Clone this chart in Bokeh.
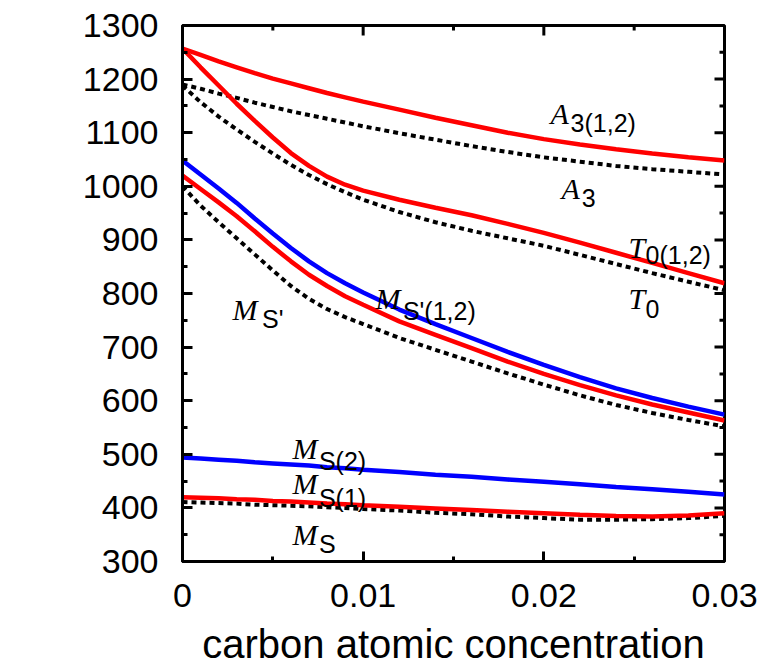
import math
from bokeh.plotting import figure
from bokeh.models import FixedTicker, Range1d, Label, ColumnDataSource
from bokeh.embed import file_html
from bokeh.resources import INLINE
from bokeh.core.properties import value

# ---- data ----
conc = [0, 0.001, 0.002, 0.003, 0.004, 0.005, 0.006, 0.007, 0.008, 0.009, 0.01,
        0.012, 0.014, 0.016, 0.018, 0.02, 0.022, 0.024, 0.026, 0.028, 0.03]

A3_12 = [1257, 1245, 1233, 1222, 1211, 1201, 1192, 1183, 1174, 1166, 1158,
         1143, 1128, 1114, 1100, 1088, 1078, 1069, 1061, 1054, 1048]
A3 = [1190, 1182, 1173, 1165, 1156, 1148, 1140, 1133, 1126, 1119, 1112,
      1099, 1087, 1075, 1064, 1054, 1046, 1038, 1032, 1027, 1022]
T0_12 = [1257, 1222, 1188, 1154, 1122, 1091, 1062, 1038, 1018, 1003, 992,
         975, 960, 946, 930, 913, 895, 876, 857, 838, 819]
T0 = [1188, 1157, 1130, 1106, 1083, 1061, 1040, 1021, 1004, 989, 975,
      952, 933, 917, 903, 889, 872, 855, 838, 822, 806]
MSp_2 = [1048, 1022, 996, 969, 940, 912, 885, 860, 838, 819, 802,
         770, 743, 717, 691, 667, 644, 623, 605, 589, 574]
MSp_1 = [1020, 995, 970, 944, 916, 887, 860, 835, 814, 795, 779,
         748, 723, 698, 673, 650, 629, 610, 593, 578, 563]
MSp = [1000, 964, 933, 903, 873, 843, 814, 790, 771, 756, 743,
       717, 695, 673, 651, 630, 610, 592, 577, 564, 552]
MS_2 = [494, 492, 490, 488, 485, 483, 481, 479, 476, 474, 471,
        467, 462, 458, 453, 449, 444, 439, 435, 430, 425]
MS_1 = [420, 419, 418, 416, 415, 413, 412, 410, 408, 407, 405,
        402, 399, 396, 393, 390, 387, 385, 384, 386, 390]
MS = [411, 410, 409, 408, 406, 405, 404, 403, 401, 400, 398,
      395, 391, 388, 384, 381, 378, 378, 379, 381, 385]

x_ticks = [0, 0.01, 0.02, 0.03]
x_tick_labels = ["0", "0.01", "0.02", "0.03"]
x_minor = [0.005, 0.015, 0.025]
y_ticks = [300, 400, 500, 600, 700, 800, 900, 1000, 1100, 1200, 1300]
y_tick_labels = ["300", "400", "500", "600", "700", "800", "900", "1000", "1100", "1200", "1300"]
y_minor = [350, 450, 550, 650, 750, 850, 950, 1050, 1150, 1250]

label_main = ["A", "A", "T", "T", "M", "M", "M", "M", "M"]
label_sub = ["3(1,2)", "3", "0(1,2)", "0", "S'(1,2)", "S'", "S(2)", "S(1)", "S"]
label_x = [0.02037, 0.02098, 0.02469, 0.02469, 0.01068, 0.00277, 0.00609, 0.00609, 0.00609]
label_y = [1136, 996, 886, 791, 791, 770, 511, 446, 350]
sub_x = [0.02148, 0.02210, 0.02563, 0.02563, 0.01220, 0.00440, 0.00755, 0.00755, 0.00755]
sub_y = [1119, 979, 871, 772, 768, 752, 488, 418, 332]

xlabel = "carbon atomic concentration"
ylabel_main = "T"
ylabel_unit = "(K)"

RED = "#ff0000"
BLUE = "#0000ff"

X0, X1 = 0, 0.03
Y0, Y1 = 300, 1300

p = figure(width=766, height=668, x_range=Range1d(X0, X1), y_range=Range1d(Y0, Y1),
           output_backend="svg", toolbar_location=None,
           min_border_left=182, min_border_right=42, min_border_top=25, min_border_bottom=107)
p.xgrid.visible = False
p.ygrid.visible = False
p.outline_line_color = "black"
p.outline_line_width = 3
p.outline_line_alpha = 1.0
p.background_fill_color = "white"
p.border_fill_color = "white"


def style_axis(ax, ticks, minor, labels, standoff):
    ax.ticker = FixedTicker(ticks=ticks, minor_ticks=minor)
    ax.major_label_overrides = dict(zip(ticks, labels))
    ax.major_tick_in = 10
    ax.major_tick_out = 0
    ax.major_tick_line_width = 3
    ax.minor_tick_in = 5
    ax.minor_tick_out = 0
    ax.minor_tick_line_width = 3
    ax.axis_line_width = 3
    ax.major_label_text_font = "Liberation Sans"
    ax.major_label_text_font_size = "34px"
    ax.major_label_text_color = "black"
    ax.major_label_standoff = standoff


style_axis(p.xaxis[0], x_ticks, x_minor, x_tick_labels, 22)
style_axis(p.yaxis[0], y_ticks, y_minor, y_tick_labels, 24)
p.xaxis[0].axis_label = xlabel
p.xaxis[0].axis_label_text_font = "Liberation Sans"
p.xaxis[0].axis_label_text_font_size = "40px"
p.xaxis[0].axis_label_text_font_style = "normal"
p.xaxis[0].axis_label_text_color = "black"
p.xaxis[0].axis_label_standoff = 12

# mirrored inward ticks on the top and right frame edges
p.scatter(x=[X1] * len(y_ticks), y=y_ticks, marker="dash", size=20, line_width=3, line_color="black")
p.scatter(x=[X1] * len(y_minor), y=y_minor, marker="dash", size=10, line_width=3, line_color="black")
p.scatter(x=x_ticks, y=[Y1] * len(x_ticks), marker="dash", angle=math.pi / 2, size=20,
          line_width=3, line_color="black")
p.scatter(x=x_minor, y=[Y1] * len(x_minor), marker="dash", angle=math.pi / 2, size=10,
          line_width=3, line_color="black")

# ---- curves ----
dash = "5 4"
DW = 4
SW = 4.5
p.line(conc, A3, line_color="black", line_width=DW, line_dash=dash)
p.line(conc, T0, line_color="black", line_width=DW, line_dash=dash)
p.line(conc, MSp, line_color="black", line_width=DW, line_dash=dash)
p.line(conc, MS, line_color="black", line_width=DW, line_dash=dash)
p.line(conc, A3_12, line_color=RED, line_width=SW)
p.line(conc, T0_12, line_color=RED, line_width=SW)
p.line(conc, MSp_1, line_color=RED, line_width=SW)
p.line(conc, MS_1, line_color=RED, line_width=SW)
p.line(conc, MSp_2, line_color=BLUE, line_width=SW)
p.line(conc, MS_2, line_color=BLUE, line_width=SW)

# ---- curve labels ----
src_main = ColumnDataSource(dict(x=label_x, y=label_y, t=label_main))
src_sub = ColumnDataSource(dict(x=sub_x, y=sub_y, t=label_sub))
p.text(x="x", y="y", text="t", source=src_main, text_font=value("Liberation Serif"),
       text_font_style="italic", text_font_size="30px", text_color="black",
       text_align="left", text_baseline="alphabetic")
p.text(x="x", y="y", text="t", source=src_sub, text_font=value("Liberation Sans"),
       text_font_size="25px", text_color="black",
       text_align="left", text_baseline="alphabetic")

# ---- y axis title: italic T + (K) ----
p.add_layout(Label(x=-0.00731, y=731, text=ylabel_main, angle=math.pi / 2,
                   text_font="Liberation Serif", text_font_style="italic",
                   text_font_size="40px", text_color="black",
                   text_align="left", text_baseline="alphabetic"))
p.add_layout(Label(x=-0.00731, y=783, text=ylabel_unit, angle=math.pi / 2,
                   text_font="Liberation Sans", text_font_size="34px", text_color="black",
                   text_align="left", text_baseline="alphabetic"))

open("out.html", "w").write(file_html(p, INLINE))
